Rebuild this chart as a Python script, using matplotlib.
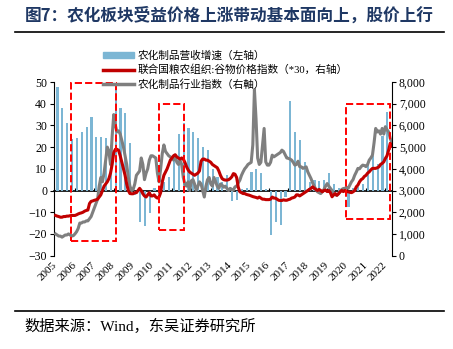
import matplotlib
matplotlib.use("Agg")
import matplotlib.pyplot as plt
from matplotlib.patches import Rectangle, Patch
from matplotlib.lines import Line2D
from matplotlib.ticker import StrMethodFormatter
import pandas as pd

plt.rcParams["font.family"] = ["Liberation Serif", "Noto Sans CJK SC"]

# %% data
quarters = pd.period_range("2005Q1", "2022Q1", freq="Q")
revenue_growth = [
    47.5, 38, 31, 23.7,
    24, 26.8, 29.4, 33.7,
    24.8, 24.5, 24, 21,
    47.5, 37.8, 35.8, 22,
    -2, -14.5, -16.5, -10.5,
    1, -1.5, 4, 6,
    17, 26, 31.2, 29,
    27, 24.3, 20, 18.5,
    10, 6, 4, 7,
    -5, -4.5, 0.5, 1,
    8.6, 9.8, 8.3, 0.5,
    -20.3, -14.5, -16, -3,
    41.2, 26.8, 23.2, 13,
    4, 5, 4.5, 5,
    8, 3, 1, 1,
    -7.5, 1, 1.5, 3,
    12, 16, 12, 25,
    36,
]

months = pd.period_range("2005-01", "2022-05", freq="M")
fao_cereal_x30 = [
    1850, 1820, 1800, 1770, 1770, 1800, 1800, 1820, 1820, 1840, 1850, 1850,
    1850, 1880, 1920, 1950, 1970, 2000, 2050, 2080, 2100, 2400, 2500, 2520,
    2550, 2570, 2600, 2700, 2800, 3000, 3200, 3300, 3400, 3550, 3800, 4200,
    4750, 4900, 4900, 4850, 4600, 4300, 4000, 3700, 3300, 3000, 2860, 2850,
    2850, 2900, 2900, 3000, 3100, 3000, 2850, 2750, 2700, 2800, 2900, 2750,
    2750, 2800, 2700, 2650, 2700, 2900, 3400, 3700, 3850, 4000, 4200, 4400,
    4500, 4600, 4650, 4550, 4500, 4450, 4500, 4450, 4300, 4100, 3950, 3850,
    3800, 3750, 3700, 3750, 3800, 3900, 4350, 4450, 4450, 4400, 4400, 4350,
    4300, 4200, 4150, 4100, 4050, 3900, 3700, 3550, 3500, 3480, 3480, 3500,
    3550, 3630, 3780, 3750, 3600, 3150, 2940, 2900, 2860, 2860, 2820, 2800,
    2780, 2750, 2720, 2700, 2680, 2650, 2700, 2650, 2600, 2600, 2580, 2580,
    2580, 2600, 2700, 2650, 2650, 2600, 2550, 2540, 2540, 2570, 2550, 2550,
    2580, 2600, 2650, 2670, 2700, 2800, 2800, 2750, 2800, 2850, 2900, 2950,
    3000, 3050, 3100, 3170, 3100, 3050, 3000, 3050, 3000, 2940, 3000, 3020,
    2950, 3000, 2900, 2710, 2800, 2860, 2780, 2850, 2940, 3000, 2950, 3000,
    2950, 2940, 2920, 2900, 2940, 3000, 3170, 3250, 3400, 3500, 3550, 3650,
    3700, 3800, 3860, 3950, 4020, 4020, 4020, 4050, 4090, 4200, 4250, 4320,
    4480, 4600, 4860, 5170, 5050,
]
agro_index = [
    1000, 950, 900, 900, 850, 900, 950, 950, 1000, 950, 900, 920,
    1000, 1100, 1250, 1500, 1500, 1550, 1550, 1600, 1600, 1700, 1800, 2000,
    2200, 2400, 2600, 3200, 3600, 3400, 3800, 4400, 5000, 4800, 4200, 5500,
    6500, 6000, 5700, 5750, 5600, 5300, 5000, 4600, 4200, 3600, 3200, 3000,
    3050, 3300, 3700, 3800, 3900, 4500, 4200, 3500, 3800, 4000, 4400, 4600,
    4600, 4550, 4500, 3800, 3400, 4000, 4700, 5100, 4800, 4700, 4600, 4550,
    4500, 4400, 4600, 4300, 4200, 4400, 4200, 3600, 3300, 3200, 3400, 3000,
    3450, 3500, 3300, 3000, 3200, 3400, 3300, 3000, 2700, 3200, 3500, 3600,
    3300, 3200, 3600, 3400, 3200, 3100, 3300, 3250, 3150, 3200, 3100, 3000,
    3100, 3050, 3020, 3170, 3200, 3350, 3480, 3700, 3860, 4000, 4090, 4200,
    4250, 4300, 5100, 7650, 6300, 4500, 4200, 4300, 5100, 5860, 4320, 4170,
    4170, 4300, 4630, 4550, 4600, 4650, 4700, 4750, 4860, 4800, 4650, 4500,
    4480, 4450, 4400, 4300, 4170, 4200, 4350, 4100, 4090, 4020, 4050, 4090,
    3860, 3700, 3550, 3350, 3200, 3050, 2940, 2900, 2860, 2950, 3050, 3200,
    3320, 3200, 3100, 3000, 2860, 2800, 2780, 2850, 2950, 3050, 3090, 3100,
    3150, 3100, 3250, 3400, 3500, 3700, 3850, 4020, 4000, 4100, 4170, 4150,
    4100, 4200, 4400, 4500, 4630, 5200, 5860, 5700, 5750, 5600, 5860, 5600,
    5940, 5800, 5700, 5400, 5200,
]
years = list(range(2005, 2023))

labels = [
    "农化制品营收增速（左轴）",
    "联合国粮农组织:谷物价格指数（*30，右轴）",
    "农化制品行业指数（右軸）",
]

# %%
BAR = "#7CB6D4"
RED = "#C00000"
GREY = "#7F7F7F"

xq = quarters.year + (quarters.quarter - 1) / 4 + 0.1
xm = months.year + (months.month - 1) / 12

fig = plt.figure(figsize=(4.53, 3.49), dpi=100)
ax = fig.add_axes([0.1192, 0.2676, 0.7461, 0.4974])
ax2 = ax.twinx()

ax.bar(xq, revenue_growth, width=0.11, color=BAR, zorder=2)
ax2.plot(xm, agro_index, color=GREY, lw=2.2)
ax2.plot(xm, fao_cereal_x30, color=RED, lw=2.2)

ax.set_xlim(2004.92, 2022.34)
ax.set_ylim(-30, 50)
ax2.set_ylim(0, 8000)

# zero line with small ticks
zero = ax.secondary_xaxis(0.375)
zero.set_xticks(years)
zero.tick_params(direction="in", length=2.5, width=0.8, labelbottom=False)
zero.spines["bottom"].set_linewidth(1.2)

ax.set_xticks(years)
ax.set_xticklabels([str(y) for y in years], rotation=45, ha="right", va="center",
                   rotation_mode="anchor", fontsize=8)
ax.tick_params(axis="x", length=0, pad=6)
ax.set_yticks(range(-30, 51, 10))
ax.tick_params(axis="y", direction="out", length=3, labelsize=8.5, pad=2)
ax2.set_yticks(range(0, 8001, 1000))
ax2.yaxis.set_major_formatter(StrMethodFormatter("{x:,.0f}"))
ax2.tick_params(axis="y", direction="out", length=3, labelsize=8.5, pad=2)

for s in ["top", "bottom", "right"]:
    ax.spines[s].set_visible(False)
for s in ["top", "bottom", "left"]:
    ax2.spines[s].set_visible(False)

# dashed boxes
for x0, x1, y0, y1 in [(2005.79, 2008.11, -23.4, 49.4),
                       (2010.32, 2011.62, -18.1, 40),
                       (2019.95, 2022.25, -12.9, 39.8)]:
    ax2.add_patch(Rectangle((x0, y0), x1 - x0, y1 - y0, transform=ax.transData,
                            fill=False, ec="#FF0000", ls="--", lw=1.4,
                            zorder=5, clip_on=False))

handles = [Patch(color=BAR), Line2D([], [], color=RED, lw=2.5),
           Line2D([], [], color=GREY, lw=2.5)]
fig.legend(handles, labels, loc="upper left", bbox_to_anchor=(0.228, 0.855),
           frameon=False, fontsize=7.7, handlelength=2.9, handleheight=0.55,
           handletextpad=0.3, labelspacing=0.35, borderpad=0, borderaxespad=0)

fig.text(0.055, 0.954, "图7：农化板块受益价格上涨带动基本面向上，股价上行",
         fontsize=12, fontweight="bold", color="#1F3864",
         family=["Noto Sans CJK SC"], va="center")
fig.add_artist(Line2D([0.033, 0.98], [0.909, 0.909], color="black", lw=1.2))
fig.add_artist(Line2D([0.033, 0.98], [0.11, 0.11], color="black", lw=1.2))
fig.text(0.055, 0.064, "数据来源：Wind，东吴证券研究所", fontsize=11, va="center")

fig.savefig("out.png", dpi=100)
